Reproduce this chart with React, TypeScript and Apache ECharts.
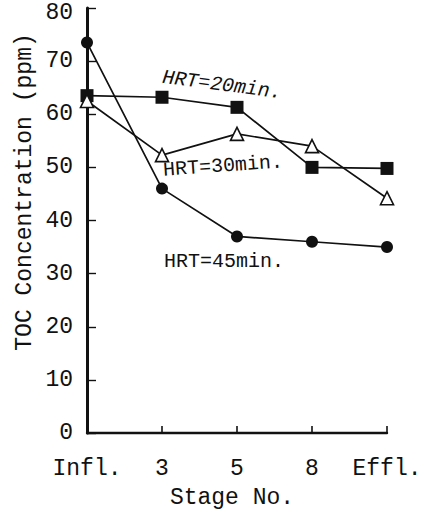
import React, { useEffect, useRef } from "react";
import * as echarts from "echarts";

const stages = ["Infl.", "3", "5", "8", "Effl."];
const hrt20 = [63.5, 63.2, 61.3, 50, 49.8];
const hrt30 = [62.5, 52.3, 56.3, 54, 44.2];
const hrt45 = [73.5, 46, 37, 36, 35];
const yTicks = { min: 0, max: 80, interval: 10 };
const yTitle = "TOC Concentration (ppm)";
const xTitle = "Stage No.";
const labels = ["HRT=20min.", "HRT=30min.", "HRT=45min."];

const FONT = "'Liberation Mono', 'DejaVu Sans Mono', monospace";
const INK = "#111";

export default function App() {
  const ref = useRef<HTMLDivElement>(null);
  useEffect(() => {
    if (!ref.current) return;
    const chart = echarts.init(ref.current, undefined, { renderer: "svg" });
    const lineSeries = (name: string, data: number[], symbol: string, size: number, hollow: boolean) => ({
      name,
      type: "line",
      data,
      symbol,
      symbolSize: size,
      showAllSymbol: true,
      lineStyle: { color: INK, width: 1.7 },
      itemStyle: hollow
        ? { color: "#fff", borderColor: INK, borderWidth: 1.6 }
        : { color: INK, borderColor: INK, borderWidth: 0 },
      emphasis: { disabled: true },
    });
    chart.setOption({
      animation: false,
      backgroundColor: "#fff",
      grid: { left: 87, right: 37, top: 8, bottom: 84, outerBoundsMode: "none" },
      xAxis: {
        type: "category",
        data: stages,
        boundaryGap: false,
        axisLine: { lineStyle: { color: INK, width: 2.4 } },
        axisTick: { inside: true, length: 7, interval: 0, lineStyle: { color: INK, width: 1.6 } },
        axisLabel: { color: INK, fontFamily: FONT, fontSize: 23, margin: 24, interval: 0 },
        splitLine: { show: false },
      },
      yAxis: {
        type: "value",
        min: yTicks.min,
        max: yTicks.max,
        interval: yTicks.interval,
        axisLine: { show: true, lineStyle: { color: INK, width: 3 } },
        axisTick: { show: true, inside: true, length: 9, lineStyle: { color: INK, width: 1.4 } },
        axisLabel: {
          color: INK,
          fontFamily: FONT,
          fontSize: 23,
          margin: 14,
          formatter: (v: number) => (v === yTicks.max ? `{top|${v}}` : `${v}`),
          rich: { top: { fontFamily: FONT, fontSize: 23, color: INK, padding: [9, 0, 0, 0] } },
        },
        splitLine: { show: false },
      },
      graphic: [
        {
          type: "text",
          x: 25,
          y: 192,
          rotation: Math.PI / 2,
          style: { text: yTitle, fill: INK, font: `23px ${FONT}`, align: "center", verticalAlign: "middle" },
        },
        {
          type: "text",
          x: 232,
          y: 498,
          style: { text: xTitle, fill: INK, font: `23px ${FONT}`, align: "center", verticalAlign: "middle" },
        },
        {
          type: "text",
          x: 222,
          y: 85,
          rotation: -0.13,
          style: { text: labels[0], fill: INK, font: `italic 20px ${FONT}`, align: "center", verticalAlign: "middle" },
        },
        {
          type: "text",
          x: 223,
          y: 166,
          rotation: 0.07,
          style: { text: labels[1], fill: INK, font: `20px ${FONT}`, align: "center", verticalAlign: "middle" },
        },
        {
          type: "text",
          x: 224,
          y: 261,
          style: { text: labels[2], fill: INK, font: `20px ${FONT}`, align: "center", verticalAlign: "middle" },
        },
      ],
      series: [
        lineSeries(labels[0], hrt20, "rect", 13, false),
        lineSeries(labels[1], hrt30, "triangle", 13, true),
        lineSeries(labels[2], hrt45, "circle", 12, false),
      ],
    });
    return () => chart.dispose();
  }, []);
  return <div ref={ref} style={{ width: 424, height: 517, position: "absolute", left: 0, top: 0 }} />;
}
